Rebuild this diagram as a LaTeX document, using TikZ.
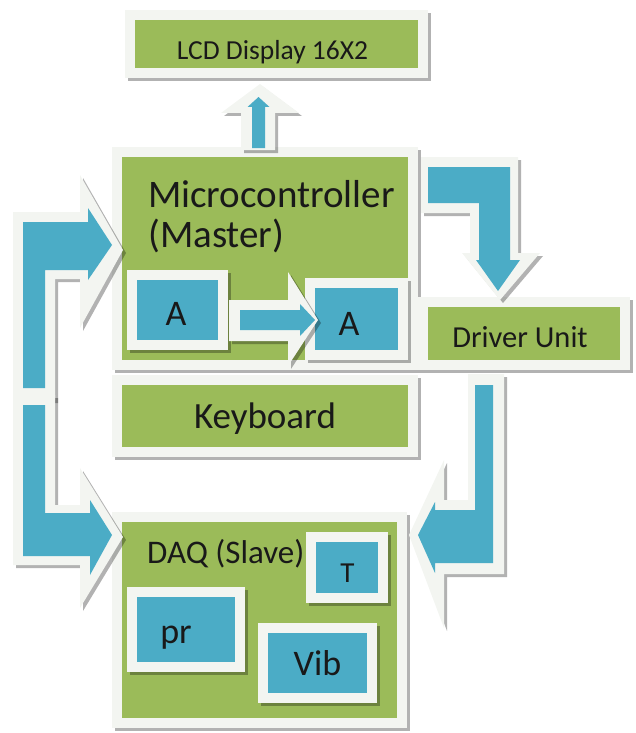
\documentclass[tikz,border=0pt]{standalone}
\usepackage{fontspec}
\setmainfont{Carlito}
\usetikzlibrary{shadows}

\definecolor{boxgreen}{HTML}{9BBB59}
\definecolor{boxblue}{HTML}{4BACC6}
\definecolor{framecol}{HTML}{F3F5F1}

\newcommand\lblsize[2]{\fontsize{#1}{#2}\selectfont}

\tikzset{
  boxframe/.style={draw=framecol, line width=10pt, inner sep=0pt, outer sep=0pt,
    general shadow={draw=black, opacity=.3, line width=10pt, shadow xshift=3pt, shadow yshift=-3pt}},
  greenbox/.style={boxframe, fill=boxgreen},
  bluebox/.style={boxframe, fill=boxblue},
  arrowframe/.style={fill=framecol,
    general shadow={fill=black, opacity=.3, shadow xshift=3pt, shadow yshift=-3pt}},
  arrowfill/.style={fill=boxblue},
  lbl/.style={inner sep=0pt, anchor=base, text=black!90}
}

\begin{document}
\begin{tikzpicture}[x=1pt,y=-1pt]
\useasboundingbox (0,0) rectangle (636,733);

% green blocks
\node[greenbox, minimum width=293, minimum height=58] (lcd) at (276.5,44) {};
\node[greenbox, minimum width=296, minimum height=213] (micro) at (265,258.5) {};
\node[greenbox, minimum width=296, minimum height=72] (keyb) at (265,416) {};
\node[greenbox, minimum width=202, minimum height=63] (driver) at (524,333.5) {};
\node[greenbox, minimum width=285, minimum height=206] (daq) at (259.5,620) {};

% blue blocks
\node[bluebox, minimum width=91, minimum height=70] (adcin) at (177.5,310) {};
\node[bluebox, minimum width=93, minimum height=72] (adcout) at (356.5,319) {};
\node[bluebox, minimum width=72, minimum height=61] (temp) at (347,567.5) {};
\node[bluebox, minimum width=108, minimum height=75] (press) at (186,629.5) {};
\node[bluebox, minimum width=109, minimum height=70] (vib) at (317.5,663) {};

% block arrows
\path[arrowframe] (241,150) -- (241,113) -- (221,113) -- (260,84) -- (299,113) -- (275,113) -- (275,150) -- cycle;
\path[arrowfill] (252,148) -- (252,107) -- (247.5,107) -- (258.5,97) -- (269.5,107) -- (265,107) -- (265,148) -- cycle;

\path[arrowframe] (421,157) -- (518,157) -- (518,253) -- (540,253) -- (500,300) -- (462,253) -- (470,253) -- (470,213) -- (421,213) -- cycle;
\path[arrowfill] (428,167) -- (510,167) -- (510,260) -- (520,260) -- (498,291) -- (476,260) -- (479,260) -- (479,203) -- (428,203) -- cycle;

\path[arrowframe] (229,300) -- (288,300) -- (288,272) -- (318,320) -- (288,366) -- (288,341) -- (229,341) -- cycle;
\path[arrowfill] (240,310) -- (300,310) -- (300,304) -- (315,320) -- (300,336) -- (300,330) -- (240,330) -- cycle;

\path[arrowframe] (13,400) -- (13,212) -- (80,212) -- (80,175) -- (123,250) -- (80,328) -- (80,279) -- (55,279) -- (55,400) -- cycle;
\path[arrowframe] (13,395) -- (55,395) -- (55,505) -- (80,505) -- (80,468) -- (123,537) -- (80,608) -- (80,565) -- (13,565) -- cycle;
\path[arrowfill] (23,388) -- (23,222) -- (88,222) -- (88,208) -- (112,245) -- (88,280) -- (88,270) -- (45,270) -- (45,388) -- cycle;
\path[arrowfill] (23,405) -- (45,405) -- (45,513) -- (90,513) -- (90,500) -- (112,535) -- (90,575) -- (90,556) -- (23,556) -- cycle;

\path[arrowframe] (468,374) -- (504,374) -- (504,574) -- (444,574) -- (444,628) -- (409,535) -- (444,460) -- (444,500) -- (468,500) -- cycle;
\path[arrowfill] (475,385) -- (493,385) -- (493,563) -- (435,563) -- (435,573) -- (418,535) -- (435,502) -- (435,510) -- (475,510) -- cycle;

% labels
\node[lbl, font=\lblsize{27.5}{30}] (lcdtext) at (272.5,60) {LCD Display 16X2};
\node[lbl, anchor=north west, align=left, font=\lblsize{39}{40}] (microtext) at (148,180) {Microcontroller\\(Master)};
\node[lbl, font=\lblsize{37}{40}] (keybtext) at (265,428) {Keyboard};
\node[lbl, font=\lblsize{30.5}{33}] (drivertext) at (520,347) {Driver Unit};
\node[lbl, anchor=base west, font=\lblsize{33}{35}] (daqtext) at (147,563) {DAQ (Slave)};
\node[lbl, font=\lblsize{36}{40}] (adcintext) at (176,325) {A};
\node[lbl, font=\lblsize{36}{40}] (adcouttext) at (349,335) {A};
\node[lbl, font=\lblsize{29}{30}] (temptext) at (347.5,582) {T};
\node[lbl, font=\lblsize{36}{40}] (presstext) at (176,643) {pr};
\node[lbl, font=\lblsize{36}{40}] (vibtext) at (317.5,675) {Vib};
\end{tikzpicture}
\end{document}
